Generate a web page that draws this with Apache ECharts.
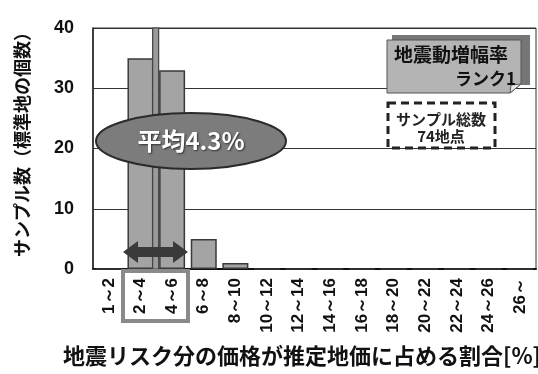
<!DOCTYPE html>
<html><head><meta charset="utf-8">
<script src="https://cdn.jsdelivr.net/npm/echarts@6/dist/echarts.min.js"></script>
<style>html,body{margin:0;padding:0;background:#fff}#c{width:538px;height:374px}</style>
</head><body><div id="c"></div>
<script>
const categories = ['1～2','2～4','4～6','6～8','8～10','10～12','12～14','14～16','16～18','18～20','20～22','22～24','24～26','26～'];
const counts = [0,35,33,5,1,0,0,0,0,0,0,0,0,0];
const yTicks = [0,10,20,30,40];
const meanText = '平均4.3%';
const meanSlot = 1.98; // mean line position on the category-slot scale
const yTitle = 'サンプル数（標準地の個数）';
const xTitle = '地震リスク分の価格が推定地価に占める割合[%]';
const boxTitle1 = '地震動増幅率';
const boxTitle2 = 'ランク1';
const sampleText1 = 'サンプル総数';
const sampleText2 = '74地点';

const CJK = '"Noto Sans CJK JP", sans-serif';
const LAT = '"Liberation Sans"';
const chart = echarts.init(document.getElementById('c'), null, {renderer:'canvas'});
const option = {
  animation: false,
  grid: {left: 93, top: 28, right: 2, bottom: 105, show: true, borderColor: '#333', borderWidth: 1},
  xAxis: [{
    type: 'category', data: categories, boundaryGap: true,
    axisLine: {lineStyle: {color: '#111', width: 2}},
    axisTick: {inside: true, length: 5, lineStyle: {color: '#333'}},
    axisLabel: {rotate: 90, margin: 9, color: '#111', fontWeight: 'bold', fontSize: 17, fontFamily: LAT, interval: 0}
  }, {
    type: 'value', min: 0, max: categories.length, show: false
  }],
  yAxis: {
    type: 'value', min: yTicks[0], max: yTicks[yTicks.length-1], interval: 10,
    axisLine: {show: true, lineStyle: {color: '#222', width: 1.5}},
    axisTick: {show: true, inside: true, length: 6, lineStyle: {color: '#333'}},
    splitLine: {lineStyle: {color: '#333', width: 1}},
    axisLabel: {margin: 19, color: '#111', fontWeight: 'bold', fontSize: 18, fontFamily: LAT}
  },
  series: [{
    type: 'bar', data: counts, barWidth: 26, xAxisIndex: 0,
    itemStyle: {color: '#a4a4a4', borderColor: '#3a3a3a', borderWidth: 1.5},
    z: 2
  }]
};
chart.setOption(option);

const pTop = chart.convertToPixel({xAxisIndex: 1, yAxisIndex: 0}, [meanSlot, yTicks[yTicks.length-1]]);
const pBot = chart.convertToPixel({xAxisIndex: 1, yAxisIndex: 0}, [meanSlot, yTicks[0]]);

chart.setOption({
  graphic: [
    // mean line
    {type: 'rect', shape: {x: pTop[0] - 3, y: pTop[1], width: 6, height: pBot[1] - pTop[1]}, style: {fill: '#9a9a9a', stroke: '#444', lineWidth: 1.2}, z: 9},
    // mean ellipse
    {type: 'ellipse', shape: {cx: 191, cy: 141, rx: 95, ry: 28}, style: {fill: '#7c7c7c', stroke: '#2a2a2a', lineWidth: 2}, z: 10},
    {type: 'text', x: 191, y: 141, style: {text: meanText, fill: '#fff', font: 'bold 24px ' + CJK, textAlign: 'center', textVerticalAlign: 'middle', textShadowColor: '#333', textShadowBlur: 2, textShadowOffsetX: 1, textShadowOffsetY: 1}, z: 11},
    // double arrow
    {type: 'polygon', shape: {points: [[123,252],[138,241],[138,247],[173,247],[173,241],[188,252],[173,263],[173,257],[138,257],[138,263]]}, style: {fill: '#3a3a3a'}, z: 10},
    // highlight box around labels
    {type: 'rect', shape: {x: 123, y: 271, width: 65, height: 50}, style: {fill: 'none', stroke: '#8a8a8a', lineWidth: 4}, z: 10},
    // rank box with shadow
    {type: 'rect', shape: {x: 392, y: 35, width: 138, height: 50}, style: {fill: '#767676'}, z: 10},
    {type: 'polygon', shape: {points: [[387,40],[521,40],[521,84],[510,93],[387,93]]}, style: {fill: '#b4b4b4', stroke: '#555', lineWidth: 1}, z: 11},
    {type: 'polygon', shape: {points: [[510,93],[521,84],[511,85]]}, style: {fill: '#e8e8e8', stroke: '#555', lineWidth: 1}, z: 12},
    {type: 'text', x: 394, y: 55, style: {text: boxTitle1, fill: '#111', font: 'bold 19px ' + CJK, textAlign: 'left', textVerticalAlign: 'middle'}, z: 12},
    {type: 'text', x: 516, y: 79, style: {text: boxTitle2, fill: '#111', font: 'bold 17px ' + CJK, textAlign: 'right', textVerticalAlign: 'middle'}, z: 12},
    // sample dashed box
    {type: 'rect', shape: {x: 388, y: 103, width: 107, height: 45}, style: {fill: '#fff', stroke: '#222', lineWidth: 3, lineDash: [8, 5]}, z: 10},
    {type: 'text', x: 441, y: 119, style: {text: sampleText1, fill: '#222', font: 'bold 15px ' + CJK, textAlign: 'center', textVerticalAlign: 'middle'}, z: 11},
    {type: 'text', x: 441, y: 136, style: {text: sampleText2, fill: '#222', font: 'bold 15px ' + CJK, textAlign: 'center', textVerticalAlign: 'middle'}, z: 11},
    // axis titles
    {type: 'text', x: 22, y: 140, rotation: Math.PI/2, style: {text: yTitle, fill: '#111', font: 'bold 18px ' + CJK, textAlign: 'center', textVerticalAlign: 'middle'}, z: 11},
    {type: 'text', x: 302, y: 356, style: {text: xTitle, fill: '#111', font: 'bold 22px ' + CJK, textAlign: 'center', textVerticalAlign: 'middle'}, z: 11}
  ]
});
</script></body></html>
